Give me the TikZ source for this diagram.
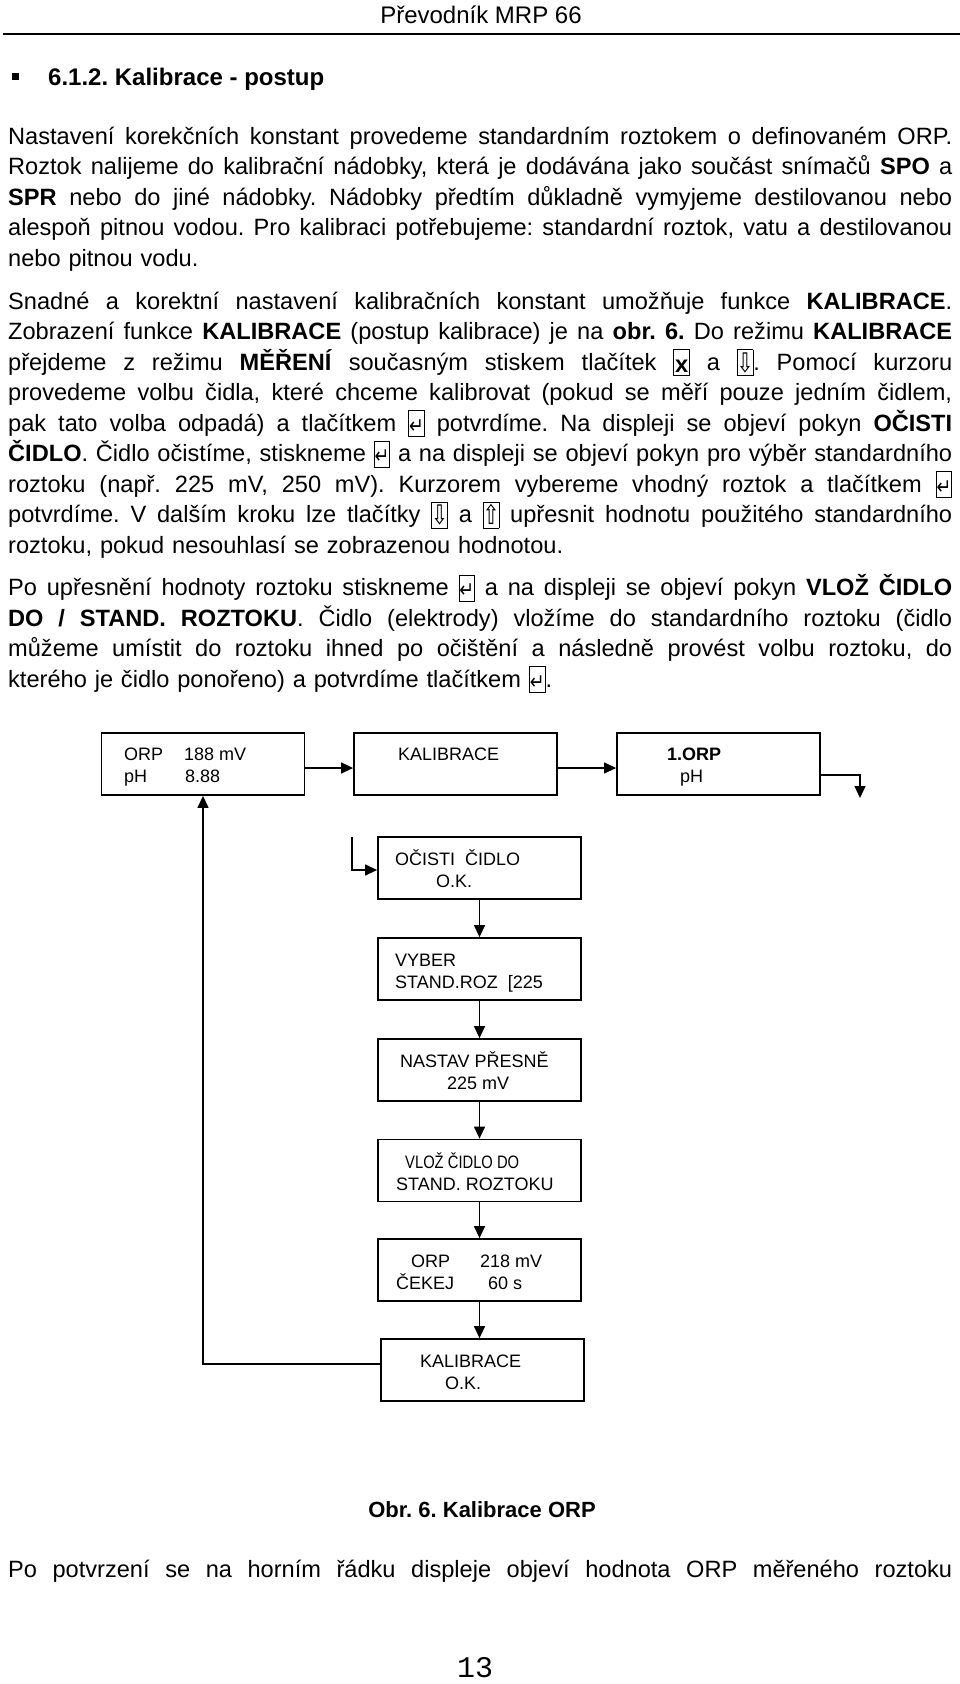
\documentclass[tikz,border=0pt]{standalone}
\usepackage{fontspec}
\usepackage{graphicx}
\setmainfont{Liberation Sans}
\newfontfamily\symfont{DejaVu Sans}
\newfontfamily\pagefont{Liberation Mono}
\usetikzlibrary{arrows.meta}
\frenchspacing

\newcommand{\jl}[1]{\noindent\hbox to 944pt{\spaceskip=0.28em plus 1fil minus 0.1em\xspaceskip=\spaceskip #1}}
\newcommand{\btn}[1]{{\setlength{\fboxsep}{0pt}\setlength{\fboxrule}{0.8pt}\raisebox{-5pt}{\fbox{\makebox[15pt]{\rule{0pt}{25pt}\raisebox{3pt}{#1}}}}}}
\newcommand{\kx}{\btn{\textbf{x}}}
\newcommand{\kdown}{\btn{\symfont\fontsize{27}{27}\selectfont\scalebox{0.75}[1]{⇩}}}
\newcommand{\kup}{\btn{\symfont\fontsize{27}{27}\selectfont\scalebox{0.75}[1]{⇧}}}
\newcommand{\kent}{\btn{\symfont\fontsize{22}{22}\selectfont\scalebox{0.8}[1]{↵}}}

\begin{document}
\begin{tikzpicture}[x=1pt,y=-1pt,
    disp/.style={draw, line width=1.8pt, minimum width=203pt, minimum height=62pt, inner sep=0pt},
    flow/.style={line width=1.3pt, -{Triangle[length=12pt,width=11pt]}},
    lcd/.style={anchor=base west, inner sep=0pt, font=\fontsize{18}{22}\selectfont},
    para/.style={anchor=north west, inner sep=0pt, text width=944pt, align=left, font=\fontsize{23.6}{30.5}\selectfont}]
            \fill[white] (0,0) rectangle (960,1684);
            \useasboundingbox (0,0) rectangle (960,1684);
            % page head
            \node[anchor=base, inner sep=0pt, font=\fontsize{24}{24}\selectfont] (head) at (481,23) {Převodník MRP 66};
            \draw[line width=1.5pt] (3,34) -- (960,34);
            \fill (12,73) rectangle (19,80);
            \node[anchor=base west, inner sep=0pt, font=\fontsize{24}{24}\selectfont\bfseries] (sec) at (48,85) {6.1.2. Kalibrace - postup};
            % text
            \node[para] (p1) at (8,121) {\noindent\rule{0pt}{23pt}\jl{Nastavení korekčních konstant provedeme standardním roztokem o definovaném ORP.}\\
              \jl{Roztok nalijeme do kalibrační nádobky, která je dodávána jako součást snímačů \textbf{SPO} a}\\
              \jl{\textbf{SPR} nebo do jiné nádobky. Nádobky předtím důkladně vymyjeme destilovanou nebo}\\
              \jl{alespoň pitnou vodou. Pro kalibraci potřebujeme: standardní roztok, vatu a destilovanou}\\
              \noindent nebo pitnou vodu.};
            \node[para] (p2) at (8,286) {\noindent\rule{0pt}{23pt}\jl{Snadné a korektní nastavení kalibračních konstant umožňuje funkce \textbf{KALIBRACE}.}\\
              \jl{Zobrazení funkce \textbf{KALIBRACE} (postup kalibrace) je na \textbf{obr. 6.} Do režimu \textbf{KALIBRACE}}\\
              \jl{přejdeme z režimu \textbf{MĚŘENÍ} současným stiskem tlačítek \kx{} a \kdown. Pomocí kurzoru}\\
              \jl{provedeme volbu čidla, které chceme kalibrovat (pokud se měří pouze jedním čidlem,}\\
              \jl{pak tato volba odpadá) a tlačítkem \kent{} potvrdíme. Na displeji se objeví pokyn \textbf{OČISTI}}\\
              \jl{\textbf{ČIDLO}. Čidlo očistíme, stiskneme \kent{} a na displeji se objeví pokyn pro výběr standardního}\\
              \jl{roztoku (např. 225 mV, 250 mV). Kurzorem vybereme vhodný roztok a tlačítkem \kent}\\
              \jl{potvrdíme. V dalším kroku lze tlačítky \kdown{} a \kup{} upřesnit hodnotu použitého standardního}\\
              \noindent roztoku, pokud nesouhlasí se zobrazenou hodnotou.};
            \node[para] (p3) at (8,572.5) {\noindent\rule{0pt}{23pt}\jl{Po upřesnění hodnoty roztoku stiskneme \kent{} a na displeji se objeví pokyn \textbf{VLOŽ ČIDLO}}\\
              \jl{\textbf{DO / STAND. ROZTOKU}. Čidlo (elektrody) vložíme do standardního roztoku (čidlo}\\
              \jl{můžeme umístit do roztoku ihned po očištění a následně provést volbu roztoku, do}\\
              \noindent kterého je čidlo ponořeno) a potvrdíme tlačítkem \kent.};
            % displays
            \node[disp] (b1) at (203,764) {};
            \node[disp] (b2) at (455.5,764) {};
            \node[disp] (b3) at (718.5,764) {};
            \node[disp] (c1) at (479.5,868) {};
            \node[disp] (c2) at (479.5,969) {};
            \node[disp] (c3) at (479.5,1070) {};
            \node[disp] (c4) at (479.5,1170.5) {};
            \node[disp] (c5) at (479.5,1270) {};
            \node[disp] (c6) at (482.5,1370) {};
            \node[lcd] (b1a) at (124,760) {ORP};
            \node[lcd] (b1b) at (184,760) {188 mV};
            \node[lcd] (b1c) at (124,782) {pH};
            \node[lcd] (b1d) at (185,782) {8.88};
            \node[lcd] (b2a) at (398,760) {KALIBRACE};
            \node[lcd] (b3a) at (667,760) {\textbf{1.ORP}};
            \node[lcd] (b3b) at (680,782) {pH};
            \node[lcd] (c1a) at (395,865) {OČISTI\ \ ČIDLO};
            \node[lcd] (c1b) at (436,887) {O.K.};
            \node[lcd] (c2a) at (395,966) {VYBER};
            \node[lcd] (c2b) at (395,988) {STAND.ROZ\ \ [225};
            \node[lcd] (c3a) at (400,1067) {NASTAV PŘESNĚ};
            \node[lcd] (c3b) at (447,1089) {225 mV};
            \node[lcd] (c4a) at (405,1168) {\scalebox{0.82}[1]{VLOŽ ČIDLO DO}};
            \node[lcd] (c4b) at (396,1190) {STAND. ROZTOKU};
            \node[lcd] (c5a) at (411,1267) {ORP};
            \node[lcd] (c5b) at (480,1267) {218 mV};
            \node[lcd] (c5c) at (396,1289) {ČEKEJ};
            \node[lcd] (c5d) at (488,1289) {60 s};
            \node[lcd] (c6a) at (420,1367) {KALIBRACE};
            \node[lcd] (c6b) at (445,1389) {O.K.};
            % arrows
            \coordinate (b3end) at (860,798);
            \coordinate (c1from) at (352,837);
            \draw[flow] ([yshift=-4pt]b1.east) -- ([yshift=-4pt]b2.west);
            \draw[flow] ([yshift=-4pt]b2.east) -- ([yshift=-4pt]b3.west);
            \draw[flow] ([yshift=-11pt]b3.east) -| (b3end);
            \draw[flow] (c1from) |- ([yshift=-2pt]c1.west);
            \foreach \a/\b in {c1/c2,c2/c3,c3/c4,c4/c5,c5/c6}
            \draw[flow] (\a.south) -- (\a.south |- \b.north);
            \draw[flow] ([yshift=6pt]c6.west) -| (b1.south);
            % caption and rest of page
            \node[anchor=base, inner sep=0pt, font=\fontsize{22}{22}\selectfont\bfseries] (cap) at (482,1517) {Obr. 6. Kalibrace ORP};
            \node[para] (p4) at (8,1554) {\noindent\rule{0pt}{23pt}\jl{Po potvrzení se na horním řádku displeje objeví hodnota ORP měřeného roztoku}};
            \node[anchor=base, inner sep=0pt, font=\pagefont\fontsize{30}{30}\selectfont] (pnum) at (475,1677) {13};
        \end{tikzpicture}
\end{document}
